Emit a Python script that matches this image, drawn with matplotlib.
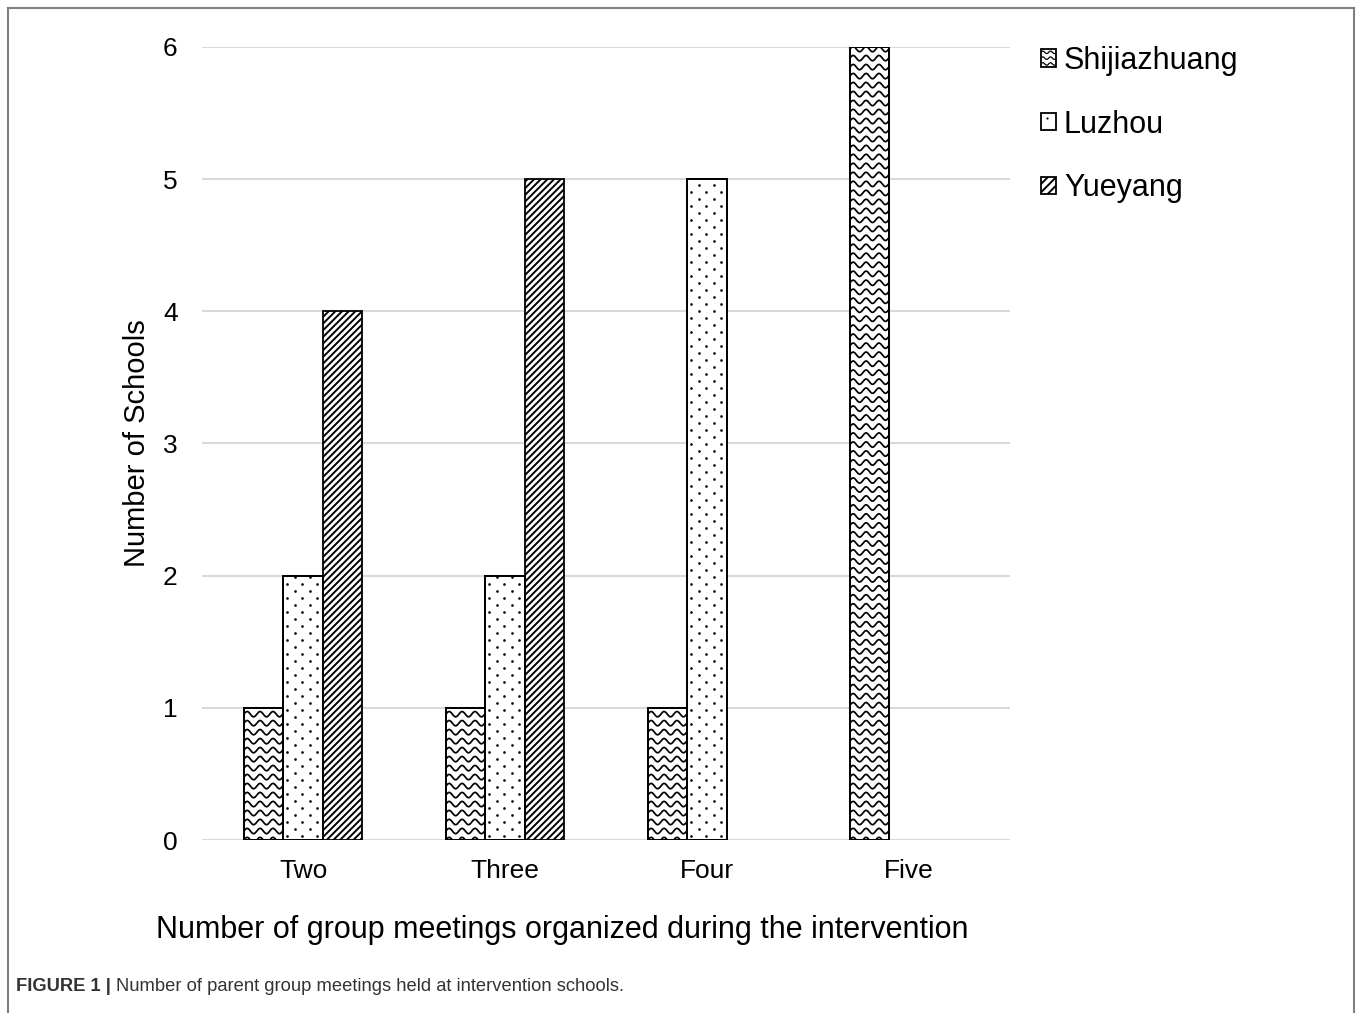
import numpy as np
import matplotlib
matplotlib.use("Agg")
import matplotlib.pyplot as plt
from matplotlib.patches import Patch, Rectangle
from matplotlib.legend_handler import HandlerPatch
from matplotlib.lines import Line2D

categories = ['Two', 'Three', 'Four', 'Five']
series_names = ['Shijiazhuang', 'Luzhou', 'Yueyang']
shijiazhuang = [1, 1, 1, 6]
luzhou = [2, 2, 5, 0]
yueyang = [4, 5, 0, 0]
yticks = [0, 1, 2, 3, 4, 5, 6]

plt.rcParams['font.family'] = ['Liberation Sans', 'DejaVu Sans']
plt.rcParams['hatch.linewidth'] = 1.4


def add_waves(ax, patch, wl=0.064, dy=0.068, amp=0.02):
    # wavy hatch, clipped to the bar
    x0, y0 = patch.get_x(), patch.get_y()
    w, h = patch.get_width(), patch.get_height()
    xs = np.linspace(x0, x0 + w, 200)
    for yy in np.arange(y0 - dy, y0 + h + dy, dy):
        ys = yy + amp * np.sin(2 * np.pi * (xs - x0) / wl)
        ln, = ax.plot(xs, ys, color='black', lw=1.25, zorder=3)
        ln.set_clip_path(patch)


def add_dots(ax, patch, dx=0.0743, dy=0.053):
    # sparse staggered dot pattern, clipped to the bar
    x0, y0 = patch.get_x(), patch.get_y()
    w, h = patch.get_width(), patch.get_height()
    k = 0
    for yy in np.arange(y0 + dy / 2, y0 + h, dy):
        off = dx / 2 if k % 2 else 0.0
        xs = np.arange(x0 + dx / 4 + off - dx, x0 + w + dx, dx)
        ln, = ax.plot(xs, np.full_like(xs, yy), ls='none', marker='o', ms=1.9,
                      mew=0, color='black', zorder=3)
        ln.set_clip_path(patch)
        k += 1


class WavyHandler(HandlerPatch):
    def create_artists(self, legend, orig_handle, xdescent, ydescent,
                       width, height, fontsize, trans):
        rect = Rectangle((-xdescent, -ydescent), width, height,
                         facecolor='white', edgecolor='black', lw=1.3,
                         transform=trans)
        arts = [rect]
        xs = np.linspace(-xdescent + 1, -xdescent + width - 1, 30)
        for k in range(3):
            yc = -ydescent + height * (k + 0.5) / 3
            ys = yc + 0.9 * np.sin(2 * np.pi * xs / (width / 2))
            arts.append(Line2D(xs, ys, color='black', lw=0.9, transform=trans))
        return arts


class DotHandler(HandlerPatch):
    def create_artists(self, legend, orig_handle, xdescent, ydescent,
                       width, height, fontsize, trans):
        rect = Rectangle((-xdescent, -ydescent), width, height,
                         facecolor='white', edgecolor='black', lw=1.3,
                         transform=trans)
        dot = Line2D([-xdescent + width * 0.4], [-ydescent + height * 0.7],
                     ls='none', marker='o', ms=1.6, mew=0, color='black',
                     transform=trans)
        return [rect, dot]


fig = plt.figure(figsize=(13.58, 10.13), dpi=100)
ax = fig.add_axes([202 / 1358, 1 - 840 / 1013, 808 / 1358, 793 / 1013])

x = np.arange(len(categories))
bw = 0.195

b1 = ax.bar(x - bw, shijiazhuang, bw, facecolor='white', edgecolor='black', lw=1.3, zorder=2)
b2 = ax.bar(x, luzhou, bw, facecolor='white', edgecolor='black', lw=1.3, zorder=2)
b3 = ax.bar(x + bw, yueyang, bw, facecolor='white', edgecolor='black', lw=1.3, hatch='/////', zorder=2)

for bars in (b1, b2, b3):
    for p in bars:
        if p.get_height() == 0:
            p.set_visible(False)
for p in b1:
    if p.get_height() > 0:
        add_waves(ax, p)
for p in b2:
    if p.get_height() > 0:
        add_dots(ax, p)
# redraw bar edges on top of the patterns
for bars in (b1, b2):
    for p in bars:
        if p.get_height() > 0:
            ax.add_patch(Rectangle((p.get_x(), p.get_y()), p.get_width(), p.get_height(),
                                   fill=False, edgecolor='black', lw=1.3, zorder=4))

ax.set_xlim(-0.5, len(categories) - 0.5)
ax.set_ylim(0, 6)
ax.set_yticks(yticks)
ax.set_xticks(x)
ax.set_xticklabels(categories)
ax.yaxis.grid(True, color='#d9d9d9', lw=1.5, zorder=0)
ax.set_axisbelow(True)
for s in ax.spines.values():
    s.set_visible(False)
ax.tick_params(axis='both', length=0, labelsize=19)
ax.tick_params(axis='y', pad=17.5)
ax.tick_params(axis='x', pad=14)

fig.text(562 / 1358, 1 - 930 / 1013, 'Number of group meetings organized during the intervention',
         ha='center', va='center', fontsize=22)
fig.text(137 / 1358, 1 - 443 / 1013, 'Number of Schools', rotation=90,
         ha='center', va='center', fontsize=21)

handles = [Patch(facecolor='white', edgecolor='black', lw=1.3),
           Patch(facecolor='white', edgecolor='black', lw=1.3),
           Patch(facecolor='white', edgecolor='black', lw=1.3, hatch='////')]
fig.legend(handles, series_names, loc='upper left',
           bbox_to_anchor=(1041 / 1358, 1 - 46 / 1013), frameon=False,
           fontsize=22, handlelength=0.5, handleheight=0.5, handletextpad=0.25,
           labelspacing=1.1, borderpad=0, borderaxespad=0,
           handler_map={handles[0]: WavyHandler(), handles[1]: DotHandler()})

# outer frame
frame_kw = dict(color='#808080', lw=1.5, transform=fig.transFigure)
fig.add_artist(Line2D([8 / 1358, 8 / 1358], [0, 1 - 8 / 1013], **frame_kw))
fig.add_artist(Line2D([8 / 1358, 1354 / 1358], [1 - 8 / 1013, 1 - 8 / 1013], **frame_kw))
fig.add_artist(Line2D([1354 / 1358, 1354 / 1358], [0, 1 - 8 / 1013], **frame_kw))

# caption
t1 = fig.text(16 / 1358, 1 - 986 / 1013, 'FIGURE 1 |', fontsize=13.2, fontweight='bold',
              color='#333333', va='center')
fig.canvas.draw()
bb = t1.get_window_extent()
fig.text((bb.x1 + 5) / 1358, 1 - 986 / 1013,
         'Number of parent group meetings held at intervention schools.',
         fontsize=13.2, color='#333333', va='center')

fig.savefig('out.png', dpi=100)
